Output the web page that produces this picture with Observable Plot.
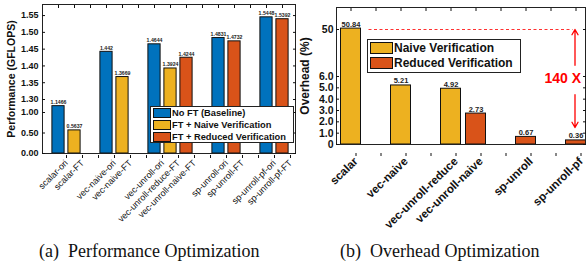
<!DOCTYPE html>
<html><head><meta charset="utf-8">
<script src="https://cdn.jsdelivr.net/npm/d3@7"></script>
<script src="https://cdn.jsdelivr.net/npm/@observablehq/plot@0.6"></script>
<style>
body{margin:0;background:#fff;font-family:"Liberation Sans",Arial,sans-serif}
#wrap{position:relative;width:587px;height:266px;overflow:hidden;background:#fff}
.panel{position:absolute;top:0}
.legend{position:absolute;background:#fff;border:1px solid #222;font-weight:bold;color:#111;box-sizing:border-box}
.legend .row{display:flex;align-items:center;white-space:nowrap}
.legend .sw{border:1px solid #111;box-sizing:border-box;flex:none}
.cap{position:absolute;font-family:"Liberation Serif","DejaVu Serif",serif;font-size:18px;line-height:18px;white-space:pre;color:#111}
</style></head><body><div id="wrap"></div>
<script>
// ---------- Panel (a): Performance ----------
const perfSlots = ["scalar-ori","scalar-FT","gap-a","vec-naive-ori","vec-naive-FT","gap-b","vec-unroll-ori","vec-unroll-reduce-FT","vec-unroll-naive-FT","gap-c","sp-unroll-ori","sp-unroll-FT","gap-d","sp-unroll-pf-ori","sp-unroll-pf-FT"];
const perfBars = ["scalar-ori","scalar-FT","vec-naive-ori","vec-naive-FT","vec-unroll-ori","vec-unroll-reduce-FT","vec-unroll-naive-FT","sp-unroll-ori","sp-unroll-FT","sp-unroll-pf-ori","sp-unroll-pf-FT"];
const perfValues = [1.1466,0.5637,1.442,1.3669,1.4644,1.3924,1.4244,1.4831,1.4732,1.5448,1.5392];
const perfLegend = ["No FT (Baseline)","FT + Naive Verification","FT + Reduced Verification"];
const perfSeries = [0,1,0,1,0,1,2,0,2,0,2].map(i => perfLegend[i]);
const perfColors = ["#0072BD","#EDB120","#D95319"];
const perfYTicks = [0,0.5,1.0,1.30,1.35,1.40,1.45,1.50,1.55];
const perfYLabel = "Performance (GFLOPS)";
const perfCaption = "(a)  Performance Optimization";

// ---------- Panel (b): Overhead ----------
const ovhSlots = ["scalar","gap-a","vec-naive","gap-b","vec-unroll-reduce","vec-unroll-naive","gap-c","sp-unroll","gap-d","sp-unroll-pf"];
const ovhBars = ["scalar","vec-naive","vec-unroll-reduce","vec-unroll-naive","sp-unroll","sp-unroll-pf"];
const ovhValues = [50.84,5.21,4.92,2.73,0.67,0.36];
const ovhLegend = ["Naive Verification","Reduced Verification"];
const ovhSeries = [0,0,0,1,1,1].map(i => ovhLegend[i]);
const ovhColors = ["#EDB120","#D95319"];
const ovhYTicks = [0,1,2,3,4,5,6,50];
const ovhYTickLabels = ["0","1.0","2.0","3.0","4.0","5.0","6.0","50"];
const ovhYLabel = "Overhead (%)";
const ovhCaption = "(b)  Overhead Optimization";
const ratioLabel = "140 X";
const ratioRef = [{value: 50, from: "gap-a", to: "sp-unroll-pf"}];
const ratioArrows = [{at: "sp-unroll-pf", from: 16.5, to: 50}, {at: "sp-unroll-pf", from: 4.4, to: 1.5}];
const ratioLabelPos = {at: "sp-unroll-pf", value: 5.8};

const isGap = d => d.startsWith("gap");
const baseStyle = {fontFamily: "'Liberation Sans', Arial, sans-serif", background: "transparent", overflow: "visible", color: "#111"};
const wrap = document.getElementById("wrap");

const perfData = perfBars.map((b, i) => ({bar: b, value: perfValues[i], series: perfSeries[i]}));
const left = Plot.plot({
  width: 296, height: 240,
  marginLeft: 42, marginRight: 1, marginTop: 4, marginBottom: 87,
  style: baseStyle,
  x: {type: "band", domain: perfSlots, range: [43.07, 295.93], padding: 0},
  y: {type: "linear", domain: [0, 1.0, 1.3, 1.583], range: [153, 112, 99, 4]},
  color: {domain: perfLegend, range: perfColors},
  marks: [
    Plot.barY(perfData, {x: "bar", y: "value", fill: "series", stroke: "#111", strokeWidth: 1, insetLeft: 1.9, insetRight: 1.9}),
    Plot.text(perfData, {x: "bar", y: "value", text: d => String(d.value), dy: -2, lineAnchor: "bottom", fontSize: 5.2, fontWeight: "bold", fill: "#222"}),
    Plot.frame({stroke: "#222"}),
    Plot.axisY(perfYTicks, {anchor: "left", label: null, tickSize: -3, tickPadding: 7, tickFormat: d3.format(".2f"), fontSize: 9, fontWeight: "bold"}),
    Plot.axisY(perfYTicks, {anchor: "right", label: null, tickSize: -3, tickFormat: () => ""}),
    Plot.axisX({anchor: "bottom", label: null, tickSize: -3, tickPadding: 6, tickRotate: -45, tickFormat: d => isGap(d) ? "" : d, fontSize: 9, dx: 8, dy: 5, fill: "#111"}),
    Plot.axisX({anchor: "top", label: null, tickSize: -3, tickFormat: () => ""}),
    Plot.text([perfYLabel], {text: d => d, frameAnchor: "left", textAnchor: "middle", rotate: -90, dx: -31, fontSize: 10.5, fontWeight: "bold"})
  ]
});
left.classList.add("panel"); left.style.left = "0px";
wrap.appendChild(left);

const ovhData = ovhBars.map((b, i) => ({bar: b, value: ovhValues[i], series: ovhSeries[i]}));
const ovhTickMap = new Map(ovhYTicks.map((t, i) => [t, ovhYTickLabels[i]]));
const right = Plot.plot({
  width: 291, height: 240,
  marginLeft: 40, marginRight: 2, marginTop: 7, marginBottom: 96,
  style: baseStyle,
  x: {type: "band", domain: ovhSlots, range: [41.5, 291.5], padding: 0},
  y: {type: "linear", domain: [0, 6, 50, 70.6], range: [144, 76, 29, 7]},
  color: {domain: ovhLegend, range: ovhColors},
  marks: [
    Plot.barY(ovhData, {x: "bar", y: "value", fill: "series", stroke: "#111", strokeWidth: 1, insetLeft: 2.5, insetRight: 2.5}),
    Plot.text(ovhData, {x: "bar", y: "value", text: d => String(d.value), dy: -2, lineAnchor: "bottom", fontSize: 7.5, fontWeight: "bold", fill: "#222"}),
    Plot.ruleY(ratioRef, {y: "value", x1: "from", x2: "to", stroke: "#ff3030", strokeWidth: 1, strokeDasharray: "3,2.5", insetLeft: 5.5, insetRight: 15.5}),
    Plot.arrow(ratioArrows, {x: "at", y1: "from", y2: "to", stroke: "#ff0000", strokeWidth: 1.3, headLength: 7, dx: -1}),
    Plot.text([ratioLabelPos], {x: "at", y: "value", text: () => ratioLabel, textAnchor: "end", dx: 5, fill: "#ff0000", fontSize: 14, fontWeight: "bold"}),
    Plot.frame({stroke: "#222"}),
    Plot.axisY(ovhYTicks, {anchor: "left", label: null, tickSize: -3, tickPadding: 6, tickFormat: d => ovhTickMap.get(d), fontSize: 10.5, fontWeight: "bold"}),
    Plot.axisY(ovhYTicks, {anchor: "right", label: null, tickSize: -3, tickFormat: () => ""}),
    Plot.axisX({anchor: "bottom", label: null, tickSize: -3, tickPadding: 6, tickRotate: -44, tickFormat: d => isGap(d) ? "" : d, fontSize: 11.5, fontWeight: "bold", dx: 5, dy: 12}),
    Plot.axisX({anchor: "top", label: null, tickSize: -3, tickFormat: () => ""}),
    Plot.text([ovhYLabel], {text: d => d, frameAnchor: "left", textAnchor: "middle", rotate: -90, dx: -31, fontSize: 12, fontWeight: "bold"})
  ]
});
right.classList.add("panel"); right.style.left = "296px";
wrap.appendChild(right);

function legend(labels, colors, box) {
  const div = document.createElement("div");
  div.className = "legend";
  Object.assign(div.style, {left: box.left + "px", top: box.top + "px", width: box.width + "px", height: box.height + "px", fontSize: box.font + "px", padding: box.pad, borderWidth: box.border + "px"});
  labels.forEach((l, i) => {
    const row = document.createElement("div");
    row.className = "row";
    row.style.height = box.rowH + "px";
    const sw = document.createElement("div");
    sw.className = "sw";
    Object.assign(sw.style, {width: box.swW + "px", height: box.swH + "px", background: colors[i], marginRight: "1px"});
    row.appendChild(sw);
    row.appendChild(document.createTextNode(l));
    div.appendChild(row);
  });
  wrap.appendChild(div);
}
legend(perfLegend, perfColors, {left: 150, top: 106, width: 144, height: 37, font: 9.3, pad: "0 0 0 2px", border: 1, rowH: 12, swW: 18, swH: 10});
legend(ovhLegend, ovhColors, {left: 367, top: 39, width: 154, height: 34, font: 12, pad: "0 0 0 2px", border: 1.5, rowH: 15.5, swW: 23, swH: 12});

function caption(text, x) {
  const d = document.createElement("div");
  d.className = "cap"; d.textContent = text;
  d.style.left = x + "px"; d.style.top = "242px";
  wrap.appendChild(d);
}
caption(perfCaption, 39);
caption(ovhCaption, 340);
</script></body></html>
